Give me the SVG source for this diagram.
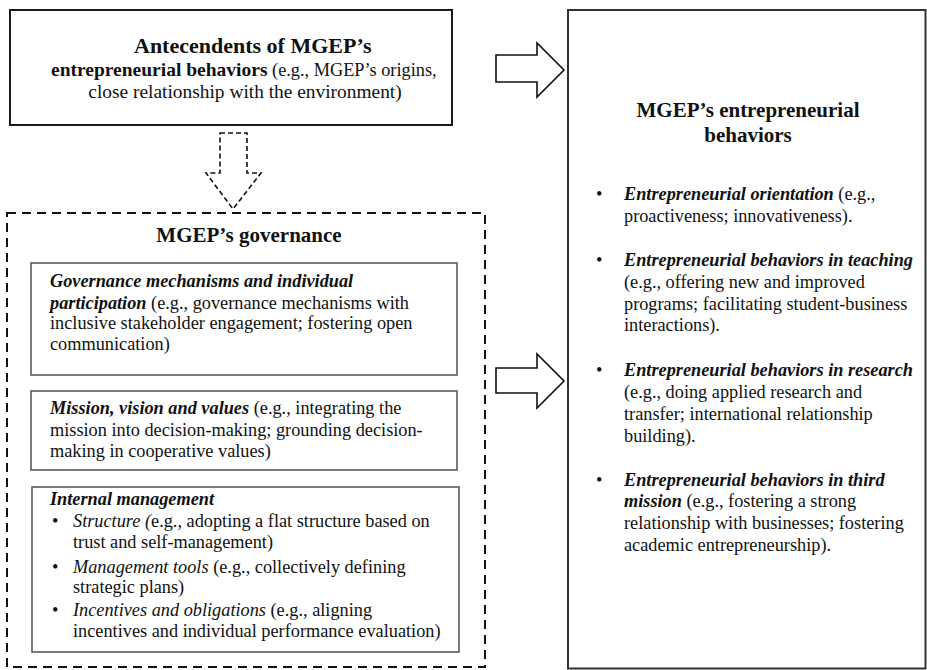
<svg xmlns="http://www.w3.org/2000/svg" width="927" height="670" viewBox="0 0 927 670" font-family="'Liberation Serif', 'Times New Roman', Tinos, 'DejaVu Serif', serif">
<style>
text{font-family:'Liberation Serif','Times New Roman',Tinos,'DejaVu Serif',serif;fill:#111;}
.t{font-size:21px;font-weight:bold;}
.b{font-size:18.3px;}
.bi{font-weight:bold;font-style:italic;}
.i{font-style:italic;}
.bold{font-weight:bold;}
.box{fill:#fff;stroke:#1a1a1a;stroke-width:2;}
.inner{fill:#fff;stroke:#5a5a5a;stroke-width:1.6;}
.dash{fill:none;stroke:#111;stroke-width:2;stroke-dasharray:9,6;}
.arrow{fill:#fff;stroke:#111;stroke-width:1.6;stroke-linejoin:miter;}
.darrow{fill:#fff;stroke:#111;stroke-width:1.6;stroke-dasharray:5,3;}
</style>
<rect width="927" height="670" fill="#fff"/>
<g id="antecedents">
<rect class="box" x="10" y="10" width="442" height="115"/>
<text x="134" y="53" font-size="22" font-weight="bold">Antecendents of MGEP’s</text>
<text x="51" y="76" font-size="18.3"><tspan class="bold" font-size="19.5">entrepreneurial behaviors</tspan> (e.g., MGEP’s origins,</text>
<text x="245" y="98" font-size="19.4" text-anchor="middle">close relationship with the environment)</text>
</g>
<g id="behaviors">
<rect x="568" y="10" width="357.5" height="658.5" fill="#fff" stroke="#333" stroke-width="2"/>
<text class="t" x="748" y="117" text-anchor="middle">MGEP’s entrepreneurial</text>
<text class="t" x="748" y="142" text-anchor="middle">behaviors</text>
<g class="b">
<text x="596" y="200">•</text>
<text x="624" y="200"><tspan class="bi">Entrepreneurial orientation</tspan> (e.g.,</text>
<text x="624" y="222">proactiveness; innovativeness).</text>
<text x="596" y="266">•</text>
<text x="624" y="266" class="bi">Entrepreneurial behaviors in teaching</text>
<text x="624" y="288">(e.g., offering new and improved</text>
<text x="624" y="310">programs; facilitating student-business</text>
<text x="624" y="331">interactions).</text>
<text x="596" y="376">•</text>
<text x="624" y="376" class="bi">Entrepreneurial behaviors in research</text>
<text x="624" y="398">(e.g., doing applied research and</text>
<text x="624" y="420">transfer; international relationship</text>
<text x="624" y="442">building).</text>
<text x="596" y="486">•</text>
<text x="624" y="486" class="bi">Entrepreneurial behaviors in third</text>
<text x="624" y="507"><tspan class="bi">mission</tspan> (e.g., fostering a strong</text>
<text x="624" y="529">relationship with businesses; fostering</text>
<text x="624" y="551">academic entrepreneurship).</text>
</g>
</g>
<g id="governance">
<rect class="dash" x="7" y="213" width="478" height="454"/>
<text class="t" x="249" y="242" text-anchor="middle">MGEP’s governance</text>
</g>
<g id="mechanisms">
<rect class="inner" x="31" y="263" width="426" height="112"/>
<g class="b">
<text x="50" y="287" class="bi">Governance mechanisms and individual</text>
<text x="50" y="309"><tspan class="bi">participation</tspan> (e.g., governance mechanisms with</text>
<text x="50" y="329">inclusive stakeholder engagement; fostering open</text>
<text x="50" y="350">communication)</text>
</g>
</g>
<g id="mission">
<rect class="inner" x="31" y="391" width="426" height="79"/>
<g class="b">
<text x="50" y="414"><tspan class="bi">Mission, vision and values</tspan> (e.g., integrating the</text>
<text x="50" y="436">mission into decision-making; grounding decision-</text>
<text x="50" y="457">making in cooperative values)</text>
</g>
</g>
<g id="internal">
<rect class="inner" x="32" y="487" width="427" height="165"/>
<g class="b">
<text x="50" y="505" class="bi">Internal management</text>
<text x="52" y="527">•</text>
<text x="73" y="527"><tspan class="i">Structure (</tspan>e.g., adopting a flat structure based on</text>
<text x="73" y="548">trust and self-management)</text>
<text x="52" y="573">•</text>
<text x="73" y="573"><tspan class="i">Management tools</tspan> (e.g., collectively defining</text>
<text x="73" y="593">strategic plans)</text>
<text x="52" y="616">•</text>
<text x="73" y="616"><tspan class="i">Incentives and obligations</tspan> (e.g., aligning</text>
<text x="73" y="637">incentives and individual performance evaluation)</text>
</g>
</g>
<g id="connectors">
<polygon class="arrow" points="496,55 537,55 537,43 564,70 537,97 537,82 496,82"/>
<polygon class="arrow" points="496,368 537,368 537,354 564,381 537,408 537,393 496,393"/>
<polygon class="darrow" points="220,133 247,133 247,173 261,173 233,209 206,173 220,173"/>
</g>
</svg>
